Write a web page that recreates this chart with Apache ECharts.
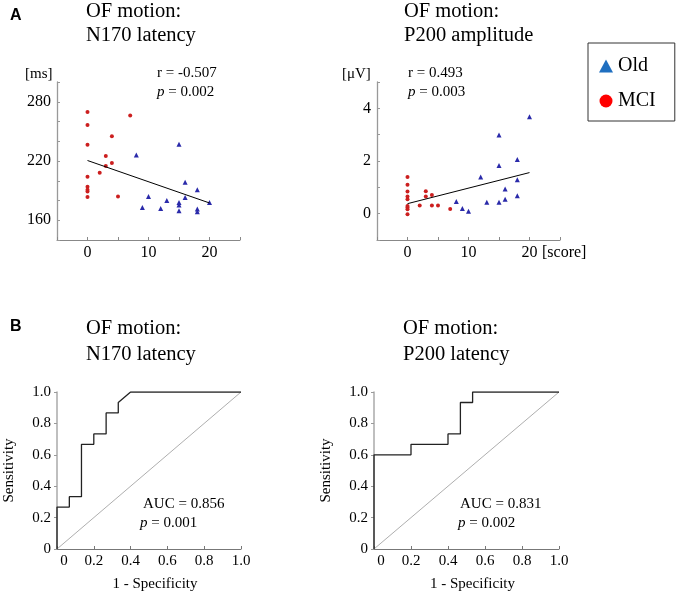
<!DOCTYPE html>
<html>
<head>
<meta charset="utf-8">
<script src="https://cdn.jsdelivr.net/npm/echarts@6/dist/echarts.min.js"></script>
<style>
html,body{margin:0;padding:0;background:#fff;}
#chart{width:683px;height:597px;}
</style>
</head>
<body>
<div id="chart"></div>
<script>
// ---- Data ----
// Panel A, left: N170 latency [ms] vs score
const mciN170 = [[0,269.5],[0,256.5],[0,236.5],[0,204],[0,194],[0,191],[0,189],[0,183.5],[2,208],[3,225],[3,215],[4,245],[4,218],[5,184],[7,266]];
const oldN170 = [[8,226],[9,173],[10,184],[12,172],[13,180],[15,237],[15,178],[15,175.5],[15,169.5],[16,198.5],[16,183],[18,191],[18,171.5],[18,168.5],[20,178]];
const fitN170 = [[0,220.5],[20,177.5]];
// Panel A, right: P200 amplitude [µV] vs score
const mciP200 = [[0,1.39],[0,1.10],[0,0.84],[0,0.65],[0,0.55],[0,0.29],[0,0.23],[0,0.17],[0,-0.02],[2,0.31],[3,0.85],[3,0.65],[4,0.71],[4,0.31],[5,0.31],[7,0.18]];
const oldP200 = [[8,0.46],[9,0.2],[10,0.09],[12,1.39],[13,0.43],[15,2.99],[15,1.83],[15,0.43],[16,0.94],[16,0.55],[18,2.06],[18,1.29],[18,0.68],[20,3.68]];
const fitP200 = [[0,0.38],[20,1.56]];
// Panel B: ROC curves
const rocN170Fpr = [0,0,0.067,0.067,0.133,0.133,0.2,0.2,0.267,0.267,0.333,0.333,0.4,1];
const rocN170Tpr = [0,0.267,0.267,0.333,0.333,0.667,0.667,0.733,0.733,0.867,0.867,0.933,1,1];
const rocP200Fpr = [0,0,0.2,0.2,0.4,0.4,0.467,0.467,0.533,0.533,1];
const rocP200Tpr = [0,0.6,0.6,0.667,0.667,0.733,0.733,0.933,0.933,1,1];
const chanceX = [0,1];
const chanceY = [0,1];
// Tick labels shown
const scoreLabels = [0,10,20];
const n170Labels = [160,220,280];
const p200Labels = [0,2,4];

const SERIF = 'Liberation Serif, Times New Roman, serif';
const zip = (a,b) => a.map((v,i)=>[v,b[i]]);

function scatterX(idx, withName){
  const ax = {
    type:'value', gridIndex:idx, min:-5, max:25, interval:5,
    axisLine:{show:true, onZero:false, lineStyle:{color:'#888', width:1}},
    axisTick:{show:true, inside:true, length:3, lineStyle:{color:'#888'}},
    splitLine:{show:false},
    axisLabel:{color:'#000', fontFamily:SERIF, fontSize:16, margin:5,
      formatter:v => scoreLabels.indexOf(v) >= 0 ? String(v) : ''}
  };
  if (withName){
    ax.name = '[score]';
    ax.nameLocation = 'end';
    ax.nameGap = -18;
    ax.nameTextStyle = {color:'#000', fontFamily:SERIF, fontSize:16, verticalAlign:'top', padding:[5,0,0,0]};
  }
  return ax;
}
function scatterY(idx, min, max, interval, labels){
  return {
    type:'value', gridIndex:idx, min:min, max:max, interval:interval,
    axisLine:{show:true, onZero:false, lineStyle:{color:'#999', width:1.3}},
    axisTick:{show:true, inside:true, length:3, lineStyle:{color:'#999'}},
    splitLine:{show:false},
    axisLabel:{color:'#000', fontFamily:SERIF, fontSize:16, margin:6,
      formatter:v => labels.some(l => Math.abs(l - v) < 1e-9) ? String(v) : ''}
  };
}
function rocX(idx){
  return {
    type:'value', gridIndex:idx, min:0, max:1, interval:0.2,
    name:'1 - Specificity', nameLocation:'middle', nameGap:28,
    nameTextStyle:{color:'#000', fontFamily:SERIF, fontSize:15, padding:[0,0,0,12]},
    axisLine:{show:true, onZero:false, lineStyle:{color:'#777', width:1}},
    axisTick:{show:true, inside:true, length:3, lineStyle:{color:'#777'}},
    splitLine:{show:false},
    axisLabel:{color:'#000', fontFamily:SERIF, fontSize:15, margin:5, showMinLabel:true, showMaxLabel:true,
      formatter:v => v === 0 ? '{z|0}' : v.toFixed(1),
      rich:{z:{padding:[0,0,0,14], fontFamily:SERIF, fontSize:15, color:'#000'}}}
  };
}
function rocY(idx){
  return {
    type:'value', gridIndex:idx, min:0, max:1, interval:0.2,
    name:'Sensitivity', nameLocation:'middle', nameGap:40,
    nameTextStyle:{color:'#000', fontFamily:SERIF, fontSize:15},
    axisLine:{show:true, onZero:false, lineStyle:{color:'#aaa', width:1.5}},
    axisTick:{show:true, inside:false, length:3, lineStyle:{color:'#999'}},
    splitLine:{show:false},
    axisLabel:{color:'#000', fontFamily:SERIF, fontSize:15, margin:6,
      formatter:v => v === 0 ? '0' : v.toFixed(1)}
  };
}

const txt = (text, left, top, extra) => Object.assign({
  text:text, left:left, top:top, padding:0,
  textStyle:{fontFamily:SERIF, fontSize:15, fontWeight:'normal', color:'#000',
    rich:{i:{fontStyle:'italic', fontFamily:SERIF, fontSize:15, color:'#000'}}}
}, extra || {});
const ttl = (text, left, top, lh) => ({
  text:text, left:left, top:top, padding:0,
  textStyle:{fontFamily:SERIF, fontSize:20.5, fontWeight:'normal', color:'#000', lineHeight:lh}
});
const panel = (text, top) => ({
  text:text, left:10, top:top, padding:0,
  textStyle:{fontFamily:'Liberation Sans, Arial, sans-serif', fontSize:16, fontWeight:'bold', color:'#000'}
});

const mciStyle = {color:'#cc1f1f', opacity:1};
const oldStyle = {color:'#2a2aaa', opacity:1};

const option = {
  backgroundColor:'#fff',
  animation:false,
  title:[
    panel('A', 8),
    panel('B', 319),
    ttl('OF motion:\nN170 latency', 86, 0, 24),
    ttl('OF motion:\nP200 amplitude', 404, 0, 24),
    ttl('OF motion:\nN170 latency', 86, 316, 26),
    ttl('OF motion:\nP200 latency', 403, 316, 26),
    txt('[ms]', 25, 67),
    txt('[μV]', 342, 67),
    txt('r = -0.507', 157, 66),
    txt('{i|p} = 0.002', 157, 85),
    txt('r = 0.493', 408, 66),
    txt('{i|p} = 0.003', 408, 85),
    txt('AUC = 0.856', 143, 497),
    txt('{i|p} = 0.001', 140, 516),
    txt('AUC = 0.831', 460, 497),
    txt('{i|p} = 0.002', 458, 516)
  ],
  legend:{
    show:true, orient:'vertical', left:588, top:43,
    padding:[13,19,10,11], itemGap:15, itemWidth:14, itemHeight:13,
    borderColor:'#333', borderWidth:1, borderRadius:0,
    selectedMode:false,
    textStyle:{fontFamily:SERIF, fontSize:20, color:'#000'},
    data:[
      {name:'Old', icon:'triangle', itemStyle:{color:'#1f6fc0', opacity:1}},
      {name:'MCI', icon:'circle', itemStyle:{color:'#ff0000', opacity:1}}
    ]
  },
  grid:[
    {left:57, top:82, width:183, height:158},
    {left:377, top:82, width:183, height:158},
    {left:57, top:392, width:184, height:157},
    {left:374, top:392, width:185, height:157}
  ],
  xAxis:[scatterX(0,false), scatterX(1,true), rocX(2), rocX(3)],
  yAxis:[scatterY(0,140,300,20,n170Labels), scatterY(1,-1,5,1,p200Labels), rocY(2), rocY(3)],
  series:[
    {name:'MCI', type:'scatter', xAxisIndex:0, yAxisIndex:0, data:mciN170, symbol:'circle', symbolSize:4, itemStyle:mciStyle},
    {name:'Old', type:'scatter', xAxisIndex:0, yAxisIndex:0, data:oldN170, symbol:'triangle', symbolSize:5, itemStyle:oldStyle},
    {name:'fitN170', type:'line', xAxisIndex:0, yAxisIndex:0, data:fitN170, showSymbol:false, lineStyle:{color:'#000', width:1}},
    {name:'MCI', type:'scatter', xAxisIndex:1, yAxisIndex:1, data:mciP200, symbol:'circle', symbolSize:4, itemStyle:mciStyle},
    {name:'Old', type:'scatter', xAxisIndex:1, yAxisIndex:1, data:oldP200, symbol:'triangle', symbolSize:5, itemStyle:oldStyle},
    {name:'fitP200', type:'line', xAxisIndex:1, yAxisIndex:1, data:fitP200, showSymbol:false, lineStyle:{color:'#000', width:1}},
    {name:'chance1', type:'line', xAxisIndex:2, yAxisIndex:2, data:zip(chanceX,chanceY), showSymbol:false, lineStyle:{color:'#999', width:0.8}},
    {name:'rocN170', type:'line', xAxisIndex:2, yAxisIndex:2, data:zip(rocN170Fpr,rocN170Tpr), showSymbol:false, lineStyle:{color:'#222', width:1.3}},
    {name:'chance2', type:'line', xAxisIndex:3, yAxisIndex:3, data:zip(chanceX,chanceY), showSymbol:false, lineStyle:{color:'#999', width:0.8}},
    {name:'rocP200', type:'line', xAxisIndex:3, yAxisIndex:3, data:zip(rocP200Fpr,rocP200Tpr), showSymbol:false, lineStyle:{color:'#222', width:1.3}}
  ]
};
const chart = echarts.init(document.getElementById('chart'), null, {renderer:'canvas'});
chart.setOption(option);
</script>
</body>
</html>
